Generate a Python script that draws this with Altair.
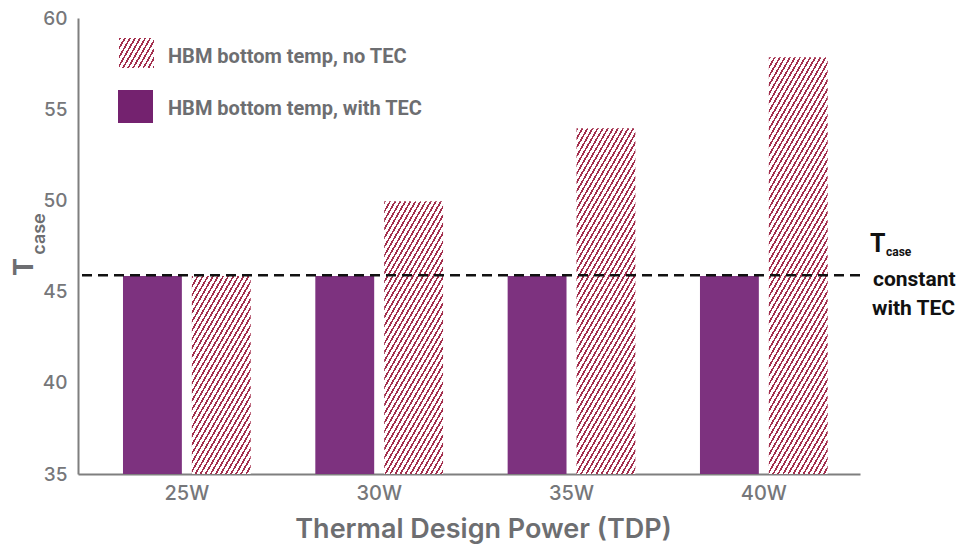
import math
import altair as alt
import pandas as pd

# ---------------- data ----------------
TDP = ["25W", "30W", "35W", "40W"]
NO_TEC = [45.85, 49.95, 53.95, 57.85]
WITH_TEC = [45.85, 45.85, 45.85, 45.85]
TCASE_CONST = [45.9]
SERIES = ["HBM bottom temp, with TEC", "HBM bottom temp, no TEC"]
Y_TICKS = [35, 40, 45, 50, 55, 60]
Y_DOMAIN = [35, 60]

# ---------------- style ----------------
W, H = 782, 456
PURPLE = "#7d327f"
PURPLE_LEG = "#74226f"
STRIPE = "#a3304e"
GRAY = "#6d6e71"
AXIS_GRAY = "#7f7f7f"
FONT = "Inter"
LEG_FONT = "Roboto"


def hatch(w, h, theta_deg=60, period=4.4, frac=0.37, color=STRIPE, bg="#ffffff"):
    """Diagonal stripe fill as a linear gradient (bbox units, SVG)."""
    th = math.radians(theta_deg)
    s, c = math.sin(th), math.cos(th)
    P = w * s + h * c
    A, B = w * s / P, h * c / P
    n2 = A * A + B * B
    dx, dy = A / n2, B / n2
    N = P / period
    stops = []
    k = 0
    while k / N < 1:
        a = k / N
        b = min((k + frac) / N, 1)
        e = min((k + 1) / N, 1)
        stops += [
            {"offset": round(a, 5), "color": color},
            {"offset": round(b, 5), "color": color},
            {"offset": round(b, 5), "color": bg},
            {"offset": round(e, 5), "color": bg},
        ]
        k += 1
    return {"gradient": "linear", "x1": 0, "y1": 0, "x2": dx, "y2": dy, "stops": stops}


df = pd.DataFrame(
    {
        "tdp": TDP * 2,
        "series": [SERIES[0]] * 4 + [SERIES[1]] * 4,
        "value": WITH_TEC + NO_TEC,
    }
)

x_enc = alt.X(
    "tdp:N",
    sort=TDP,
    scale=alt.Scale(domain=TDP, paddingInner=0, paddingOuter=0.033, align=1),
    axis=alt.Axis(
        title="Thermal Design Power (TDP)",
        labelAngle=0,
        ticks=False,
        domainColor=AXIS_GRAY,
        domainWidth=2,
        labelFont=FONT,
        labelFontSize=20,
        labelFontWeight=500,
        labelColor="#76777a",
        labelPadding=9,
        titleFont=FONT,
        titleFontSize=27,
        titleFontWeight=600,
        titleColor=GRAY,
        titlePadding=13,
        titleX=405,
        grid=False,
    ),
)
xo_enc = alt.XOffset(
    "series:N",
    scale=alt.Scale(domain=SERIES, paddingInner=0.145, paddingOuter=0.469),
)
y_enc = alt.Y(
    "value:Q",
    scale=alt.Scale(domain=Y_DOMAIN, nice=False, zero=False),
    axis=alt.Axis(
        title=None,
        values=Y_TICKS,
        ticks=False,
        domainColor=AXIS_GRAY,
        domainWidth=2,
        labelFont=FONT,
        labelFontSize=19,
        labelFontWeight=500,
        labelColor="#76777a",
        labelPadding=11,
        grid=False,
    ),
)

bar_w = 58.9
layers = []

# purple bars (with TEC)
layers.append(
    alt.Chart(df[df.series == SERIES[0]])
    .mark_bar(color=PURPLE)
    .encode(x=x_enc, xOffset=xo_enc, y=y_enc, y2=alt.datum(Y_DOMAIN[0]))
)

# hatched bars (no TEC), one per category for its own stripe geometry
for t, v in zip(TDP, NO_TEC):
    h_px = (v - Y_DOMAIN[0]) / (Y_DOMAIN[1] - Y_DOMAIN[0]) * H
    sub = df[(df.series == SERIES[1]) & (df.tdp == t)]
    layers.append(
        alt.Chart(sub)
        .mark_bar(fill=hatch(bar_w, h_px))
        .encode(x=x_enc, xOffset=xo_enc, y=y_enc, y2=alt.datum(Y_DOMAIN[0]))
    )

# dashed constant T_case line
layers.append(
    alt.Chart(pd.DataFrame({"value": TCASE_CONST}))
    .mark_rule(color="#111111", strokeWidth=2.6, strokeDash=[10, 6])
    .encode(y=y_enc)
)

# legend swatches
layers.append(
    alt.Chart(pd.DataFrame({"s": [SERIES[1]]}))
    .mark_rect(fill=hatch(35, 30))
    .encode(x=alt.value(41), x2=alt.value(76), y=alt.value(20), y2=alt.value(50))
)
layers.append(
    alt.Chart(pd.DataFrame({"s": [SERIES[0]]}))
    .mark_rect(fill=PURPLE_LEG)
    .encode(x=alt.value(40), x2=alt.value(75), y=alt.value(72), y2=alt.value(105))
)
# legend labels
for lab, yb in [(SERIES[1], 45), (SERIES[0], 97)]:
    layers.append(
        alt.Chart(pd.DataFrame({"s": [lab]}))
        .mark_text(
            font=LEG_FONT, fontSize=20, fontWeight="bold", color=GRAY,
            align="left", baseline="alphabetic",
        )
        .encode(x=alt.value(90), y=alt.value(yb), text="s:N")
    )

# y-axis title: T with subscript "case" (rotated)
layers.append(
    alt.Chart(pd.DataFrame({"s": ["T"]}))
    .mark_text(font=FONT, fontSize=27, fontWeight=700, color=GRAY, angle=270,
               align="center", baseline="middle")
    .encode(x=alt.value(-53), y=alt.value(249), text="s:N")
)
layers.append(
    alt.Chart(pd.DataFrame({"s": ["case"]}))
    .mark_text(font=FONT, fontSize=18, fontWeight=600, color=GRAY, angle=270,
               align="center", baseline="middle")
    .encode(x=alt.value(-38), y=alt.value(216), text="s:N")
)

# right annotation
ann = [
    ("T", 792, 234, 25),
    ("case", 808, 238, 12),
    ("constant", 795, 268, 21),
    ("with TEC", 794, 297, 21),
]
for txt, ax, ay, fs in ann:
    layers.append(
        alt.Chart(pd.DataFrame({"s": [txt]}))
        .mark_text(font=LEG_FONT, fontSize=fs, fontWeight="bold", color="#111111",
                   align="left", baseline="alphabetic")
        .encode(x=alt.value(ax), y=alt.value(ay), text="s:N")
    )

chart = (
    alt.layer(*layers)
    .properties(
        width=W,
        height=H,
        autosize=alt.AutoSizeParams(type="none"),
        padding={"left": 70, "top": 10, "right": 96, "bottom": 70},
    )
    .configure_view(stroke=None)
)

chart.save("out.html", embed_options={"renderer": "svg", "actions": False})
